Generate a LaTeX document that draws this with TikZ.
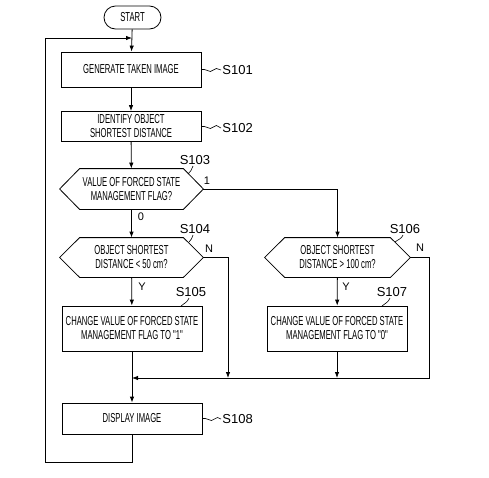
\documentclass[tikz,border=0pt]{standalone}
\usepackage{fontspec}
\setmainfont{Liberation Sans}
\newfontfamily\boxfont[FakeStretch=0.59]{Liberation Sans}
\usetikzlibrary{arrows.meta,shapes.misc}
\newcommand\hexof[1]{\draw (#1.west) -- ([xshift=20pt]#1.north west) -- ([xshift=-20pt]#1.north east) -- (#1.east) -- ([xshift=-20pt]#1.south east) -- ([xshift=20pt]#1.south west) -- cycle;}
\begin{document}
\begin{tikzpicture}[x=1pt,y=-1pt,line width=0.8pt,
  boxtext/.style={font=\boxfont\fontsize{13}{14}\selectfont},
  procbox/.style={boxtext,draw,minimum width=140pt,inner sep=1pt,align=center},
  decnode/.style={boxtext,minimum height=40pt,inner sep=0pt,align=center},
  steplabel/.style={font=\fontsize{13}{13}\selectfont,inner sep=1pt},
  branch/.style={font=\fontsize{11}{11}\selectfont,inner sep=1pt},
  arr/.style={-{Latex[length=6pt,width=4.5pt]}},
  leader/.style={line width=0.6pt}]
\useasboundingbox (0,0) rectangle (489,477);

% nodes
\node[boxtext,draw,rounded rectangle,minimum width=59pt,minimum height=23pt,inner sep=1pt] (start) at (132.5,17.5) {START};
\node[procbox,minimum height=35pt] (s101) at (131,69.5) {GENERATE TAKEN IMAGE};
\node[procbox,minimum height=30pt] (s102) at (131,126.5) {IDENTIFY OBJECT\\SHORTEST DISTANCE};
\node[decnode,minimum width=143pt] (s103) at (131.5,189) {VALUE OF FORCED STATE\\MANAGEMENT FLAG?};
\node[decnode,minimum width=143pt,minimum height=39pt] (s104) at (131.5,257.5) {OBJECT SHORTEST\\DISTANCE < 50 cm?};
\node[decnode,minimum width=145pt,minimum height=39pt] (s106) at (337.5,257.5) {OBJECT SHORTEST\\DISTANCE > 100 cm?};
\node[procbox,minimum height=45pt] (s105) at (132,328.5) {CHANGE VALUE OF FORCED STATE\\MANAGEMENT FLAG TO "1"};
\node[procbox,minimum height=45pt] (s107) at (337,328.5) {CHANGE VALUE OF FORCED STATE\\MANAGEMENT FLAG TO "0"};
\node[procbox,minimum height=31pt] (s108) at (132,418.5) {DISPLAY IMAGE};
\hexof{s103}
\hexof{s104}
\hexof{s106}

% step labels
\node[steplabel,anchor=west] (l101) at (221,70) {S101};
\node[steplabel,anchor=west] (l102) at (221,128) {S102};
\node[steplabel,anchor=west] (l108) at (221,419) {S108};
\node[steplabel] (l103) at (195,160) {S103};
\node[steplabel] (l104) at (195,229) {S104};
\node[steplabel] (l105) at (191,292) {S105};
\node[steplabel] (l106) at (405,229) {S106};
\node[steplabel] (l107) at (392,292) {S107};

\draw[leader] (s101.east) -- ++(3,0) to[out=0,in=180] ++(6,2) to[out=0,in=180] ++(6,-3) -- (l101.west);
\draw[leader] (s102.east) -- ++(3,0) to[out=0,in=180] ++(6,2) to[out=0,in=180] ++(6,-3) -- (l102.west);
\draw[leader] (s108.east) -- ++(3,0) to[out=0,in=180] ++(6,2) to[out=0,in=180] ++(6,-3) -- (l108.west);

\coordinate (e103) at (188,174);
\coordinate (e104) at (189,242);
\coordinate (e105) at (181,306);
\coordinate (e106) at (395,242);
\coordinate (e107) at (382,306);
\draw[leader] (e103) to[out=40,in=250] ([xshift=-2pt]l103.south);
\draw[leader] (e104) to[out=40,in=250] ([xshift=-2pt]l104.south);
\draw[leader] (e105) to[out=40,in=250] ([xshift=-2pt]l105.south);
\draw[leader] (e106) to[out=40,in=250] ([xshift=-2pt]l106.south);
\draw[leader] (e107) to[out=40,in=250] ([xshift=-2pt]l107.south);

% branch labels
\node[branch] (b1) at (207,181) {1};
\node[branch] (b0) at (141,217) {0};
\node[branch] (bn104) at (209,249) {N};
\node[branch] (by104) at (142,287) {Y};
\node[branch] (bn106) at (420,248) {N};
\node[branch] (by106) at (346,287) {Y};

% coordinates
\coordinate (m) at (132,378);
\coordinate (m104) at (228,378);
\coordinate (m107) at (337,378);
\coordinate (cr) at (429,378);
\coordinate (lb) at (132,462);
\coordinate (ll) at (45,38);
\coordinate (tj) at (132,38);

% connectors
\draw[arr] (start) -- (s101);
\draw[arr] (s101) -- (s102);
\draw[arr] (s102) -- (s103);
\draw[arr] (s103) -- (s104);
\draw[arr] (s103.east) -| (s106.north);
\draw[arr] (s104) -- (s105);
\draw[arr] (s106) -- (s107);
\draw[arr] (s104.east) -| (m104);
\draw[arr] (s107) -- (m107);
\draw[arr] (s106.east) -| (cr) -- (m);
\draw[arr] (s105) -- (s108);
\draw[arr] (s108) -- (lb) -| (ll) -- (tj);
\end{tikzpicture}
\end{document}
